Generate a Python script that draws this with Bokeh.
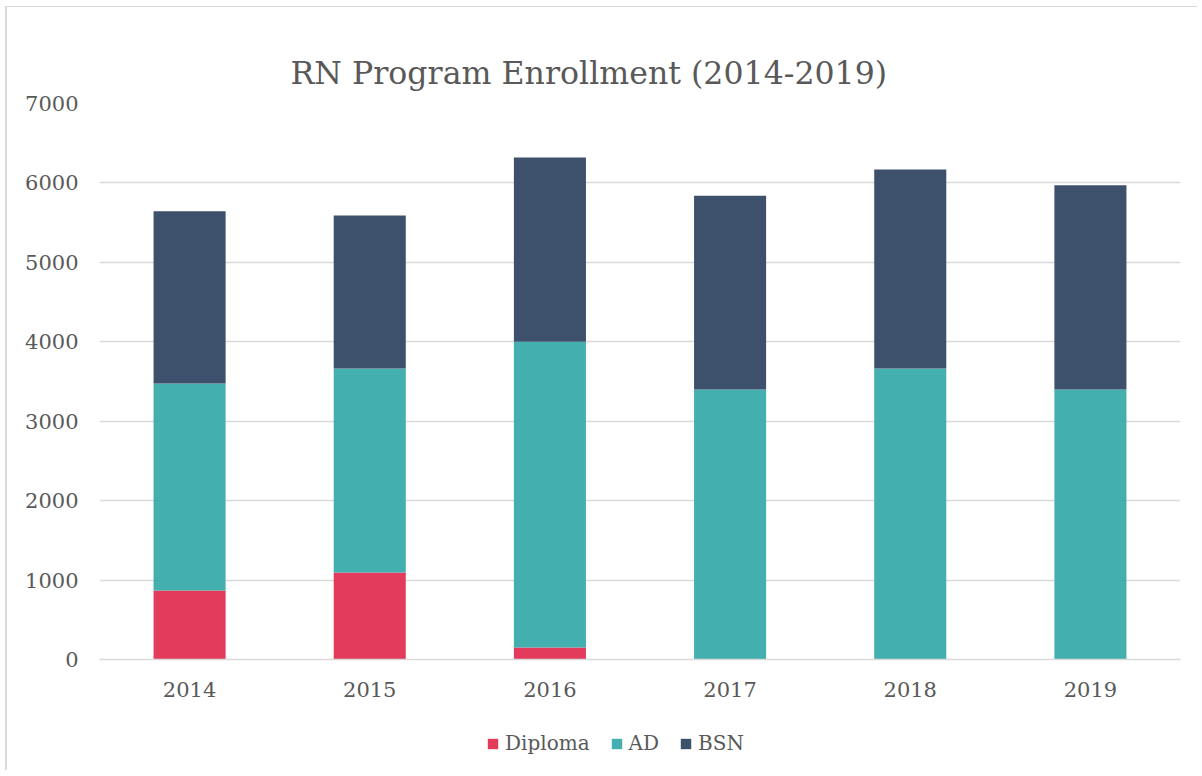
from bokeh.plotting import figure
from bokeh.models import Legend, LegendItem, Range1d, FixedTicker
from bokeh.layouts import column
from bokeh.embed import file_html
from bokeh.resources import INLINE

years = ["2014", "2015", "2016", "2017", "2018", "2019"]
diploma = [870, 1095, 150, 0, 0, 0]
ad = [2605, 2570, 3850, 3400, 3665, 3400]
bsn = [2170, 1925, 2320, 2440, 2505, 2570]
series = ["Diploma", "AD", "BSN"]
colors = ["#E23B5B", "#44AFAF", "#3E516C"]
y_ticks = [0, 1000, 2000, 3000, 4000, 5000, 6000, 7000]

FONT = "DejaVu Serif"
TXT = "#595959"

data = {"years": years, "Diploma": diploma, "AD": ad, "BSN": bsn}

p = figure(x_range=years, y_range=Range1d(0, 7000), width=1190, height=713,
           output_backend="svg", toolbar_location=None,
           min_border_left=92, min_border_right=17, min_border_top=96,
           min_border_bottom=61)

rs = p.vbar_stack(series, x="years", width=0.4, color=colors, source=data,
                  line_color=None)

p.title.text = "RN Program Enrollment (2014-2019)"
p.title.text_font = FONT
p.title.text_font_size = "31.6px"
p.title.text_font_style = "normal"
p.title.text_color = TXT
p.title.align = "left"
p.title.offset = 191
p.title.standoff = 26

p.outline_line_color = None
p.xgrid.grid_line_color = None
p.ygrid.grid_line_color = "#d9d9d9"
p.ygrid.grid_line_width = 1.5
p.yaxis.ticker = FixedTicker(ticks=y_ticks)
p.yaxis.axis_line_color = None
p.yaxis.major_tick_line_color = None
p.yaxis.minor_tick_line_color = None
p.yaxis.major_label_text_font = FONT
p.yaxis.major_label_text_font_size = "21px"
p.yaxis.major_label_text_color = TXT
p.yaxis.major_label_standoff = 15

p.xaxis.axis_line_color = "#d9d9d9"
p.xaxis.axis_line_width = 1.5
p.xaxis.major_tick_line_color = None
p.xaxis.minor_tick_line_color = None
p.xaxis.major_label_text_font = FONT
p.xaxis.major_label_text_font_size = "21px"
p.xaxis.major_label_text_color = TXT
p.xaxis.major_label_standoff = 16
p.x_range.range_padding = 0

# legend strip below the chart; its key renderers use the same series
# (zero width, out of view), so only the legend itself is visible
lf = figure(width=1190, height=50, x_range=years, y_range=Range1d(-2, -1),
            output_backend="svg", toolbar_location=None,
            min_border_left=0, min_border_right=0, min_border_top=0,
            min_border_bottom=0)
lf.axis.visible = False
lf.grid.visible = False
lf.outline_line_color = None
keys = lf.vbar_stack(series, x="years", width=0, color=colors, source=data,
                     line_color=None)

legend = Legend(items=[LegendItem(label=s, renderers=[r]) for s, r in zip(series, keys)],
                orientation="horizontal", location=(387, 15))
legend.label_text_font = FONT
legend.label_text_font_size = "20px"
legend.label_text_color = TXT
legend.glyph_width = 13
legend.glyph_height = 13
legend.spacing = 20
legend.label_standoff = 6
legend.border_line_color = None
legend.background_fill_alpha = 0
legend.margin = 0
legend.padding = 0
lf.add_layout(legend, "center")

layout = column(p, lf, spacing=0)
layout.styles = {"border-top": "1px solid #d9d9d9", "border-left": "2px solid #d9d9d9",
                 "margin-top": "6px", "margin-left": "5px"}

open("out.html", "w").write(file_html(layout, INLINE))
